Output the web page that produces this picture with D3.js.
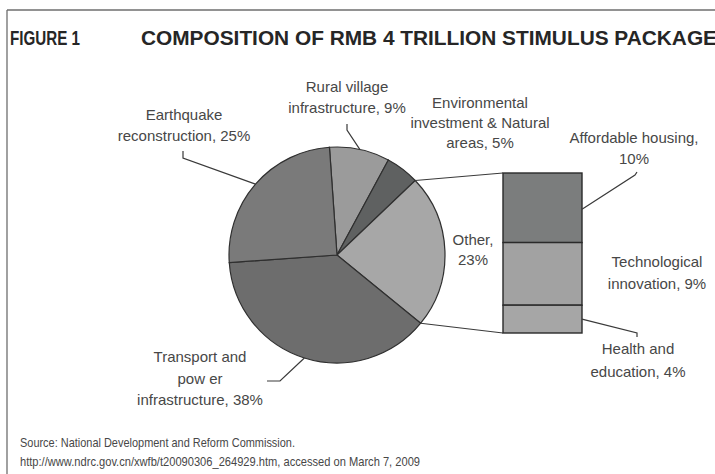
<!DOCTYPE html>
<html>
<head>
<meta charset="utf-8">
<script src="https://cdn.jsdelivr.net/npm/d3@7"></script>
<style>
  body { margin: 0; background: #fff; }
  svg { display: block; font-family: "Liberation Sans", Arial, sans-serif; }
  .lbl { fill: #474747; font-size: 15px; }
  .lead { stroke: #3a3a3a; stroke-width: 1.2; fill: none; }
  .ttl { font-weight: bold; fill: #262626; font-size: 20.5px; }
  .src { fill: #474747; font-size: 13.5px; }
</style>
</head>
<body>
<svg id="chart" width="715" height="474"></svg>
<script>
// DATA ----------------------------------------------------------------------
var pieNames  = ["Rural village", "Environmental", "Other", "Transport", "Earthquake"];
var pieValues = [9, 5, 23, 38, 25];
var pieColors = ["#9b9b9b", "#5f6161", "#a7a7a7", "#6d6d6d", "#7a7a7a"];

var otherNames  = ["Affordable housing", "Technological innovation", "Health and education"];
var otherValues = [10, 9, 4];
var otherColors = ["#7b7d7d", "#a2a2a2", "#a6a6a6"];

// LAYOUT --------------------------------------------------------------------
var svg = d3.select("#chart");
var cx = 337, cy = 255, r = 108;
var startA = -0.07;

// frame
svg.append("line").attr("x1", 7).attr("y1", 10).attr("x2", 715).attr("y2", 10)
   .attr("stroke", "#6e6e6e").attr("stroke-width", 1.3);
svg.append("line").attr("x1", 7).attr("y1", 10).attr("x2", 7).attr("y2", 474)
   .attr("stroke", "#6e6e6e").attr("stroke-width", 1.3);

// title (condensed bold)
svg.append("text").attr("class", "ttl").attr("x", 10).attr("y", 45)
   .attr("textLength", 70).attr("lengthAdjust", "spacingAndGlyphs")
   .text("FIGURE 1");
svg.append("text").attr("class", "ttl").attr("x", 141).attr("y", 45)
   .attr("textLength", 576).attr("lengthAdjust", "spacingAndGlyphs")
   .text("COMPOSITION OF RMB 4 TRILLION STIMULUS PACKAGE");

// PIE -----------------------------------------------------------------------
var pie = d3.pie().sort(null).startAngle(startA).endAngle(startA + 2 * Math.PI);
var arcs = pie(pieValues);
var arc = d3.arc().innerRadius(0).outerRadius(r);

var g = svg.append("g").attr("transform", "translate(" + cx + "," + cy + ")");
g.selectAll("path").data(arcs).enter().append("path")
  .attr("d", arc)
  .attr("fill", function(d, i) { return pieColors[i]; })
  .attr("stroke", "#2f2f2f")
  .attr("stroke-width", 1.2);

// point on the rim at a pie angle
function rim(a) {
  return [cx + r * Math.sin(a), cy - r * Math.cos(a)];
}
function mid(d) { return (d.startAngle + d.endAngle) / 2; }

// STACKED BAR FOR "OTHER" ----------------------------------------------------
var barX = 503, barW = 79;
var y = d3.scaleLinear().domain([0, d3.sum(otherValues)]).range([173, 333]);
var stack = [], acc = 0;
otherValues.forEach(function(v, i) {
  stack.push({ y0: acc, y1: acc + v, c: otherColors[i] });
  acc += v;
});

// connectors from the "Other" slice to the bar
var other = arcs[2];
var p0 = rim(other.startAngle), p1 = rim(other.endAngle);
svg.append("line").attr("class", "lead")
   .attr("x1", p0[0]).attr("y1", p0[1]).attr("x2", barX).attr("y2", y(0));
svg.append("line").attr("class", "lead")
   .attr("x1", p1[0]).attr("y1", p1[1]).attr("x2", barX).attr("y2", y(acc));

svg.selectAll("rect.seg").data(stack).enter().append("rect")
  .attr("class", "seg")
  .attr("x", barX).attr("width", barW)
  .attr("y", function(d) { return y(d.y0); })
  .attr("height", function(d) { return y(d.y1) - y(d.y0); })
  .attr("fill", function(d) { return d.c; })
  .attr("stroke", "#2a2a2a").attr("stroke-width", 1.4);

// LABELS --------------------------------------------------------------------
function label(x, y0, lines, dy) {
  var t = svg.append("text").attr("class", "lbl").attr("text-anchor", "middle");
  lines.forEach(function(s, i) {
    t.append("tspan").attr("x", x).attr("y", y0 + i * (dy || 21)).text(s);
  });
}

label(184, 120, ["Earthquake", "reconstruction, " + pieValues[4] + "%"]);
label(347, 92, ["Rural village", "infrastructure, " + pieValues[0] + "%"]);
label(480, 108, ["Environmental", "investment & Natural", "areas, " + pieValues[1] + "%"], 20);
label(473, 245, ["Other,", pieValues[2] + "%"], 20);
label(200, 362, ["Transport and", "pow er", "infrastructure, " + pieValues[3] + "%"], 21.5);
label(634, 143, ["Affordable housing,", otherValues[0] + "%"], 21);
label(657, 267, ["Technological", "innovation, " + otherValues[1] + "%"], 22);
label(638, 354, ["Health and", "education, " + otherValues[2] + "%"], 23);

// leader lines
var line = d3.line();
svg.append("path").attr("class", "lead").attr("d", line([[183, 151], [183, 158], rim(mid(arcs[4]))]));
svg.append("path").attr("class", "lead").attr("d", line([[347, 124], [347, 130], rim(mid(arcs[0]))]));
svg.append("path").attr("class", "lead").attr("d", line([[267, 381], [280, 381], rim(mid(arcs[3]))]));
svg.append("path").attr("class", "lead")
   .attr("d", line([[barX + barW, y(otherValues[0] / 2 + 0.2)], [635, 175], [637, 172]]));
svg.append("path").attr("class", "lead")
   .attr("d", line([[barX + barW, y(acc - otherValues[2] / 2)], [637, 333], [637, 337]]));

// source
svg.append("text").attr("class", "src").attr("x", 20).attr("y", 447)
   .attr("textLength", 275).attr("lengthAdjust", "spacingAndGlyphs")
   .text("Source: National Development and Reform Commission.");
svg.append("text").attr("class", "src").attr("x", 20).attr("y", 466)
   .attr("textLength", 400).attr("lengthAdjust", "spacingAndGlyphs")
   .text("http://www.ndrc.gov.cn/xwfb/t20090306_264929.htm, accessed on March 7, 2009");
</script>
</body>
</html>
